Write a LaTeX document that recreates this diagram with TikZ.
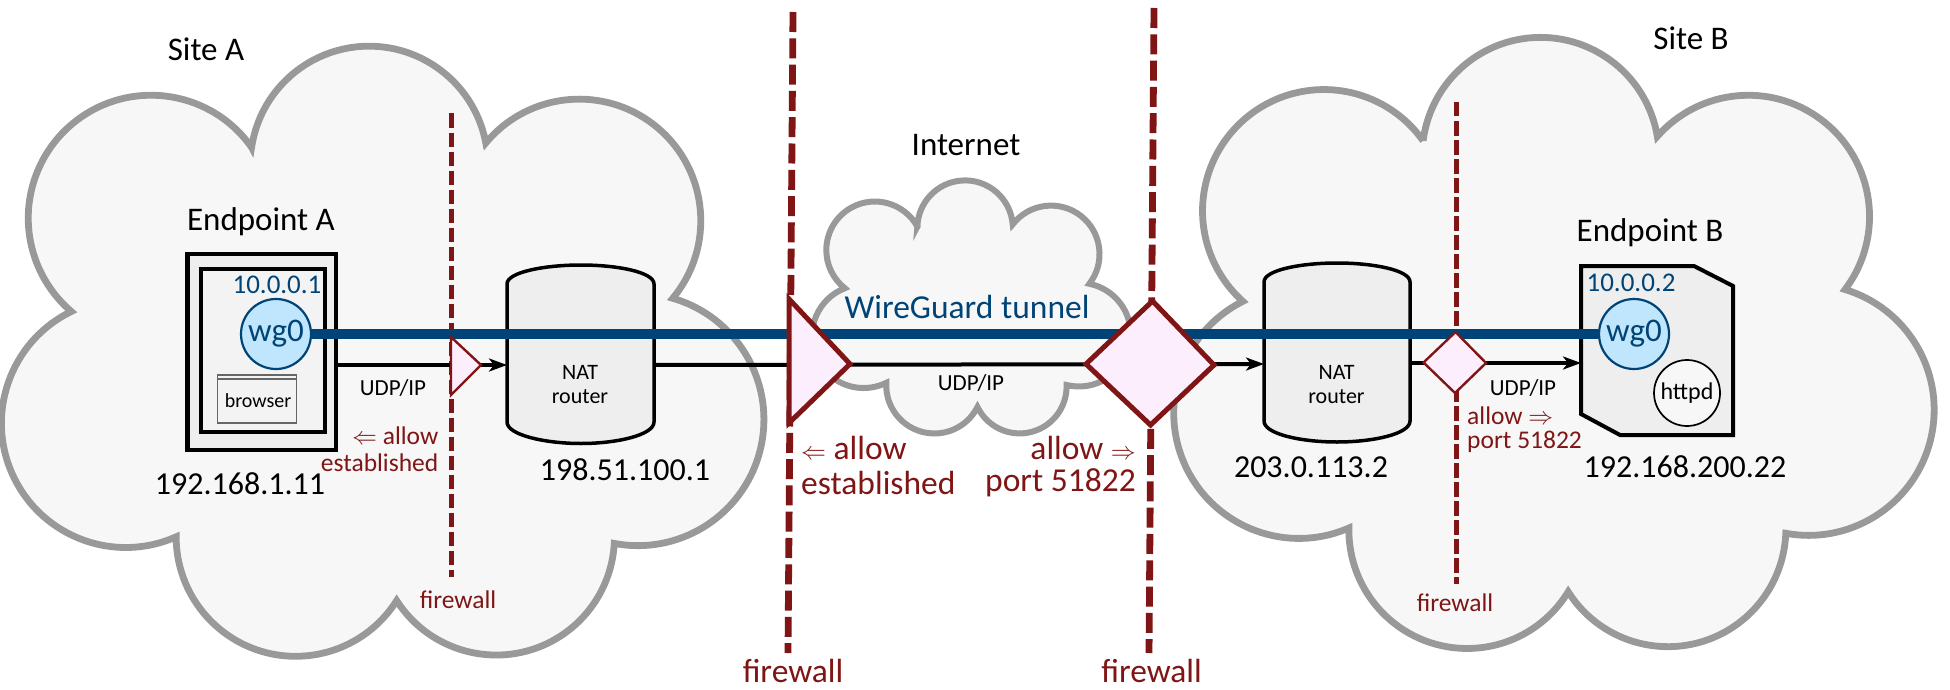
\documentclass[tikz,border=0pt]{standalone}
\usepackage{fontspec}
\setmainfont{Carlito}
\usetikzlibrary{arrows.meta,calc}
\definecolor{fw}{HTML}{801515}
\definecolor{tun}{HTML}{004477}
\definecolor{cloudline}{HTML}{999999}
\definecolor{cloudfill}{HTML}{F7F7F7}
\definecolor{boxfill}{HTML}{EEEEEE}
\definecolor{wgfill}{HTML}{BFE6FC}
\definecolor{allowfill}{HTML}{FDEEFD}
\newcommand{\fsz}[1]{\fontsize{#1}{#1}\selectfont}
% cloud outline: circular arcs through zoom-space points, scaled to pixels, y upwards
\newcommand{\cshift}{0}
\newcommand{\cpath}{}
\newcommand{\startcloud}[3]{\def\cshift{#1}\xdef\cstart{(\fpeval{0.4145*(#2)+#1},\fpeval{690-0.44*(#3)})}\gdef\cpath{}}
\newcommand{\addlobe}[6]{%
 \edef\ax{\fpeval{0.4145*(#1)+\cshift}}\edef\ay{\fpeval{690-0.44*(#2)}}%
 \edef\px{\fpeval{0.4145*(#3)+\cshift-\ax}}\edef\py{\fpeval{690-0.44*(#4)-\ay}}%
 \edef\bx{\fpeval{0.4145*(#5)+\cshift-\ax}}\edef\by{\fpeval{690-0.44*(#6)-\ay}}%
 \edef\dd{\fpeval{2*(\px*\by-\py*\bx)}}%
 \edef\ux{\fpeval{(\by*(\px*\px+\py*\py)-\py*(\bx*\bx+\by*\by))/\dd}}%
 \edef\uy{\fpeval{(\px*(\bx*\bx+\by*\by)-\bx*(\px*\px+\py*\py))/\dd}}%
 \edef\rr{\fpeval{round(sqrt(\ux*\ux+\uy*\uy),3)}}%
 \edef\sa{\fpeval{atand(-\uy,-\ux)}}%
 \edef\ea{\fpeval{atand(\by-\uy,\bx-\ux)}}%
 \edef\ea{\fpeval{\ea<\sa ? \ea+360 : \ea}}%
 \edef\sa{\fpeval{round(\sa,3)}}\edef\ea{\fpeval{round(\ea,3)}}%
 \xdef\cpath{\cpath arc[start angle=\sa,end angle=\ea,radius=\rr pt]}}
\tikzset{
  cloudshape/.style={draw=cloudline,fill=cloudfill,line width=6.8pt,miter limit=10},
  fwsmall/.style={draw=fw,line width=5pt,dash pattern=on 14.5pt off 4.5pt},
  fwbig/.style={draw=fw,line width=6.8pt,dash pattern=on 20pt off 6.3pt},
  tunnel/.style={draw=tun,line width=10pt},
  udp/.style={draw=black,line width=4pt},
  udparrow/.style={udp,-{Stealth[length=18pt,width=13pt,inset=5pt]}},
  hostbox/.style={draw=black,fill=boxfill,inner sep=0pt},
  wg/.style={circle,draw=tun,fill=wgfill,line width=2.2pt,minimum size=70pt,inner sep=0pt,text=tun,font=\fsz{33}},
  svc/.style={circle,draw=black,fill=cloudfill,line width=1.7pt,minimum size=66pt,inner sep=0pt,font=\fsz{24}},
  allowsmall/.style={draw=fw,fill=allowfill,line width=2.4pt,line join=miter},
  allowbig/.style={draw=fw,fill=allowfill,line width=5pt,line join=miter},
  big/.style={font=\fsz{33},inner sep=0pt},
  ipaddr/.style={font=\fsz{32},inner sep=0pt},
  redbig/.style={font=\fsz{33.5},inner sep=0pt,text=fw},
  redsmall/.style={font=\fsz{25.5},inner sep=0pt,text=fw},
  addr/.style={font=\fsz{27},inner sep=0pt,text=tun},
  routerbody/.style={draw=black,fill=boxfill,line width=3.5pt},
  routertext/.style={align=center,font=\fontsize{22}{24}\selectfont,inner sep=0pt},
  udplabel/.style={font=\fsz{23},inner sep=0pt},
}
\begin{document}
\begin{tikzpicture}[x=1pt,y=-1pt]
\path[use as bounding box,fill=white] (0,0) rectangle (1950,690);
% clouds
\begin{scope}[shift={(0,690)},y=1pt]
\startcloud{0}{607}{335}
\addlobe{607}{335}{170}{285}{172}{708}
\addlobe{172}{708}{48}{1110}{425}{1220}
\addlobe{425}{1220}{650}{1485}{957}{1365}
\addlobe{957}{1365}{1230}{1487}{1482}{1235}
\addlobe{1482}{1235}{1843}{950}{1623}{678}
\addlobe{1623}{678}{1598}{300}{1172}{325}
\addlobe{1172}{325}{885}{105}{607}{335}
\draw[cloudshape] \cstart \cpath -- cycle;
\startcloud{1300}{297}{320}
\addlobe{297}{320}{-150}{285}{-138}{685}
\addlobe{-138}{685}{-285}{1040}{118}{1200}
\addlobe{118}{1200}{370}{1472}{647}{1345}
\addlobe{647}{1345}{920}{1468}{1172}{1212}
\addlobe{1172}{1212}{1530}{930}{1315}{658}
\addlobe{1315}{658}{1310}{320}{862}{310}
\addlobe{862}{310}{580}{85}{297}{320}
\draw[cloudshape] \cstart \cpath -- cycle;
\startcloud{650}{645}{515}
\addlobe{645}{515}{455}{495}{470}{655}
\addlobe{470}{655}{420}{840}{570}{870}
\addlobe{570}{870}{680}{985}{790}{925}
\addlobe{790}{925}{895}{985}{1005}{875}
\addlobe{1005}{875}{1160}{760}{1060}{645}
\addlobe{1060}{645}{1060}{510}{875}{510}
\addlobe{875}{510}{760}{410}{645}{515}
\draw[cloudshape,line width=6pt] \cstart \cpath -- cycle;
\end{scope}
% endpoint A
\node[hostbox,line width=4.5pt,minimum width=148.5pt,minimum height=196pt] (epA) at (261.75,352) {};
\node[hostbox,fill=cloudfill!60!boxfill,line width=4pt,minimum width=124pt,minimum height=163pt] (epAin) at (262.5,350.5) {};
% browser window
\node[draw=black!60,fill=cloudfill!60!boxfill,line width=1.3pt,minimum width=79pt,minimum height=48pt,inner sep=0pt] (brw) at (257,399) {};
\draw[black!60,line width=1.3pt] ($(brw.north west)+(0,4.5)$) -- ($(brw.north east)+(0,4.5)$);
\node[font=\fsz{20},inner sep=0pt] (brwt) at (258,401) {browser};
% endpoint B
\coordinate (ebA) at (1581,266);
\coordinate (ebB) at (1694,266);
\coordinate (ebC) at (1733,286);
\coordinate (ebD) at (1733,435);
\coordinate (ebE) at (1620,435);
\coordinate (ebF) at (1581,414);
\draw[draw=black,fill=boxfill,line width=4pt,line join=miter] (ebA)--(ebB)--(ebC)--(ebD)--(ebE)--(ebF)--cycle;
% routers
\draw[routerbody] (507,284) .. controls (507,272) and (545,265) .. (581,265) .. controls (617,265) and (654,272) .. (654,284)
  -- (654,422) .. controls (654,435) and (617,443.5) .. (581,443.5) .. controls (545,443.5) and (507,435) .. (507,422) -- cycle;
\draw[routerbody] (1264,282) .. controls (1264,270) and (1301,263) .. (1337,263) .. controls (1373,263) and (1410,270) .. (1410,282)
  -- (1410,421) .. controls (1410,434) and (1373,442) .. (1337,442) .. controls (1301,442) and (1264,434) .. (1264,421) -- cycle;
\node[routertext] (rA) at (580,385) {NAT\\router};
\node[routertext] (rB) at (1336.5,385) {NAT\\router};
\coordinate (rAw) at (507,365);
\coordinate (rAe) at (654,365);
\coordinate (rBw) at (1264,364);
\coordinate (rBe) at (1410,363);
% firewall lines
\coordinate (fa1) at (451.5,113.5); \coordinate (fa2) at (451.5,577);
\coordinate (fb1) at (793,12); \coordinate (fb2) at (788,653);
\coordinate (fc1) at (1154,8); \coordinate (fc2) at (1149,653);
\coordinate (fd1) at (1456,102); \coordinate (fd2) at (1456,584);
\draw[fwsmall] (fa1) -- (fa2);
\draw[fwbig] (fb1) -- (fb2);
\draw[fwbig] (fc1) -- (fc2);
\draw[fwsmall] (fd1) -- (fd2);
% circles placed for connectors
\node[wg] (wgA) at (276,334) {wg0};
\node[wg] (wgB) at (1634,334) {wg0};
\node[svc] (httpd) at (1687,393) {httpd};
% connectors
\draw[tunnel] (wgA) -- (wgB);
\coordinate (epAe) at (epA.east |- rAw);
\draw[udparrow] (epAe) -- (rAw);
\draw[udparrow] (rAe) -- (rBw);
\draw[udparrow] (rBe) -- (ebA |- rBe);
% firewall shapes
\coordinate (ta1) at (451,337); \coordinate (ta2) at (481,365); \coordinate (ta3) at (451,395);
\draw[allowsmall] (ta1)--(ta2)--(ta3)--cycle;
\coordinate (tb1) at (789,299); \coordinate (tb2) at (850,364); \coordinate (tb3) at (789,423);
\draw[allowbig] (tb1)--(tb2)--(tb3)--cycle;
\coordinate (dc1) at (1152.5,301); \coordinate (dc2) at (1214,365); \coordinate (dc3) at (1150.5,425); \coordinate (dc4) at (1086,364);
\draw[allowbig] (dc1)--(dc2)--(dc3)--(dc4)--cycle;
\coordinate (dd1) at (1455.5,332); \coordinate (dd2) at (1486,363); \coordinate (dd3) at (1455,393); \coordinate (dd4) at (1423.5,362.5);
\draw[allowsmall] (dd1)--(dd2)--(dd3)--(dd4)--cycle;
% labels
\node[big] (siteA) at (206,49) {Site A};
\node[big] (siteB) at (1691,38) {Site B};
\node[big] (inet) at (966,145) {Internet};
\node[big] (epAt) at (261,222) {Endpoint A};
\node[big] (epBt) at (1650,233) {Endpoint B};
\node[ipaddr] (ipA) at (240,484) {192.168.1.11};
\node[ipaddr] (ipRA) at (625,470) {198.51.100.1};
\node[ipaddr] (ipRB) at (1311,467) {203.0.113.2};
\node[ipaddr] (ipB) at (1685,467) {192.168.200.22};
\node[addr] (addrA) at (277,285) {10.0.0.1};
\node[addr] (addrB) at (1631,283) {10.0.0.2};
\node[font=\fsz{33.5},inner sep=0pt,text=tun] (tuntext) at (967,307) {WireGuard tunnel};
\node[udplabel] (uA) at (393,388) {UDP/IP};
\node[udplabel] (uM) at (971,383) {UDP/IP};
\node[udplabel] (uB) at (1523,388) {UDP/IP};
\node[redsmall,anchor=east] (aA1) at (438.5,436) {$\Leftarrow$ allow};
\node[redsmall,anchor=east] (aA2) at (438.5,463) {established};
\node[redbig,anchor=west] (aB1) at (801,448) {$\Leftarrow$ allow};
\node[redbig,anchor=west] (aB2) at (801,483) {established};
\node[redbig,anchor=east] (aC1) at (1136,448) {allow $\Rightarrow$};
\node[redbig,anchor=east] (aC2) at (1136,483) {port 51822};
\node[redsmall,anchor=west] (aD1) at (1467,416) {allow $\Rightarrow$};
\node[redsmall,anchor=west] (aD2) at (1467,442) {port 51822};
\node[redsmall] (fwA) at (458,600) {firewall};
\node[redbig] (fwB) at (793,671) {firewall};
\node[redbig] (fwC) at (1151.5,671) {firewall};
\node[redsmall] (fwD) at (1455,603) {firewall};
\end{tikzpicture}
\end{document}
